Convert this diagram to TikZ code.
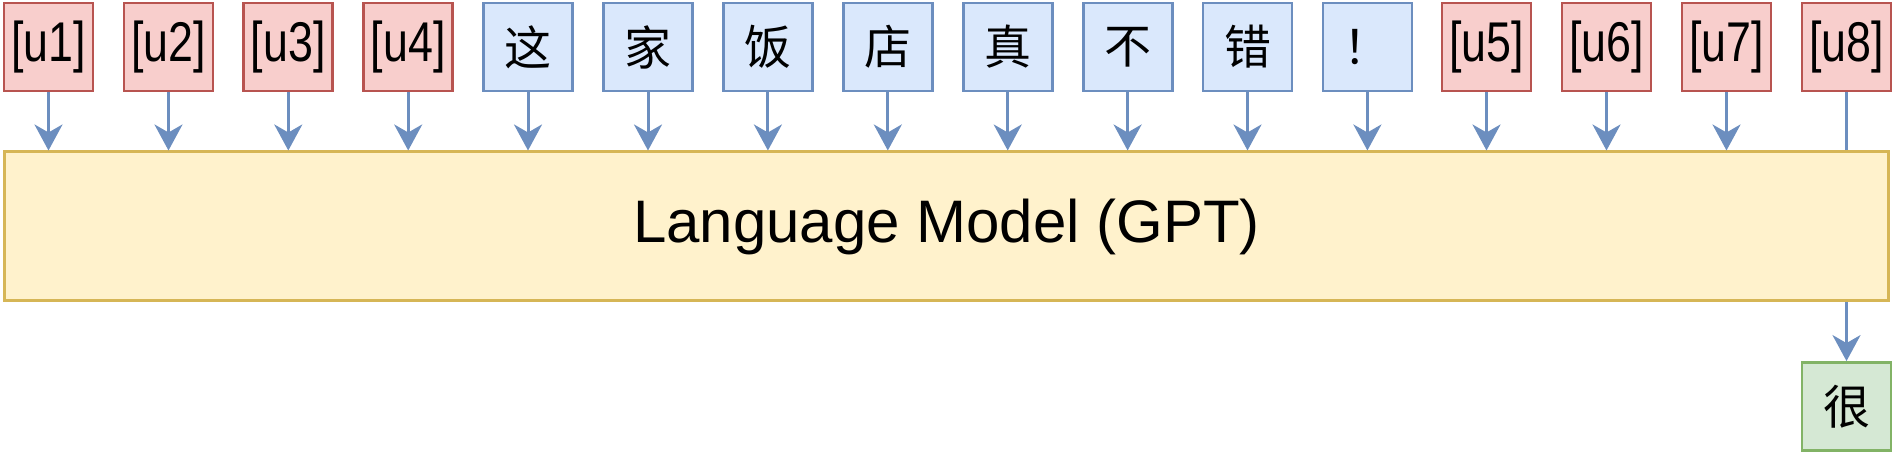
\documentclass[tikz,border=0pt]{standalone}
\usepackage{fontspec}
\newfontfamily\latinfont[FakeStretch=0.8]{Liberation Sans}
\newfontfamily\modelfont{Liberation Sans}
\newfontfamily\cjk{Noto Sans CJK SC}
\usetikzlibrary{arrows.meta}

\definecolor{redfill}{HTML}{F8CECC}
\definecolor{redline}{HTML}{B85450}
\definecolor{bluefill}{HTML}{DAE8FC}
\definecolor{blueline}{HTML}{6C8EBF}
\definecolor{yellowfill}{HTML}{FFF2CC}
\definecolor{yellowline}{HTML}{D6B656}
\definecolor{greenfill}{HTML}{D5E8D4}
\definecolor{greenline}{HTML}{82B366}

\tikzset{
	token/.style={draw, line width=1.4pt, minimum width=44.5pt, minimum height=44pt, inner sep=0pt},
	special/.style={token, draw=redline, fill=redfill, font=\latinfont\fontsize{28}{28}\selectfont},
	word/.style={token, draw=blueline, fill=bluefill, font=\cjk\fontsize{23.5}{23.5}\selectfont},
	output/.style={token, draw=greenline, fill=greenfill, font=\cjk\fontsize{23.5}{23.5}\selectfont},
	model/.style={draw=yellowline, fill=yellowfill, line width=1.5pt, minimum width=942pt, minimum height=74.5pt, inner sep=0pt, font=\modelfont\fontsize{30}{30}\selectfont},
	link/.style={draw=blueline, line width=1.5pt, -{Stealth[length=13pt, width=14pt, inset=4pt]}}
}

\begin{document}
\begin{tikzpicture}[x=0.5pt, y=-0.5pt]
		
		\useasboundingbox (0,0) rectangle (1896,454);
		
		% Special tokens before the sentence
		\node[special] (u1) at (48.5,47) {[u1]};
		\node[special] (u2) at (168.5,47) {[u2]};
		\node[special] (u3) at (288.3,47) {[u3]};
		\node[special] (u4) at (408.2,47) {[u4]};
		
		% Sentence
		\node[word] (w1) at (528,47) {这};
		\node[word] (w2) at (648,47) {家};
		\node[word] (w3) at (767.9,47) {饭};
		\node[word] (w4) at (887.8,47) {店};
		\node[word] (w5) at (1007.7,47) {真};
		\node[word] (w6) at (1127.6,47) {不};
		\node[word] (w7) at (1247.5,47) {错};
		\node[word] (w8) at (1367.4,47) {！};
		
		% Special tokens after the sentence
		\node[special] (u5) at (1486.5,47) {[u5]};
		\node[special] (u6) at (1606.5,47) {[u6]};
		\node[special] (u7) at (1726.5,47) {[u7]};
		\node[special] (u8) at (1846.5,47) {[u8]};
		
		% Predicted word
		\node[output] (hen) at (1846.5,406.5) {很};
		
		%% Last token goes through the model
		\draw[link] (u8) -- (hen);
		
		% Model
		\node[model] (lm) at (946.5,226.5) {Language Model (GPT)};
		
		%% Inputs
		\draw[link] (u1) -- (u1 |- lm.north);
		\draw[link] (u2) -- (u2 |- lm.north);
		\draw[link] (u3) -- (u3 |- lm.north);
		\draw[link] (u4) -- (u4 |- lm.north);
		\draw[link] (w1) -- (w1 |- lm.north);
		\draw[link] (w2) -- (w2 |- lm.north);
		\draw[link] (w3) -- (w3 |- lm.north);
		\draw[link] (w4) -- (w4 |- lm.north);
		\draw[link] (w5) -- (w5 |- lm.north);
		\draw[link] (w6) -- (w6 |- lm.north);
		\draw[link] (w7) -- (w7 |- lm.north);
		\draw[link] (w8) -- (w8 |- lm.north);
		\draw[link] (u5) -- (u5 |- lm.north);
		\draw[link] (u6) -- (u6 |- lm.north);
		\draw[link] (u7) -- (u7 |- lm.north);
		
	\end{tikzpicture}
\end{document}
